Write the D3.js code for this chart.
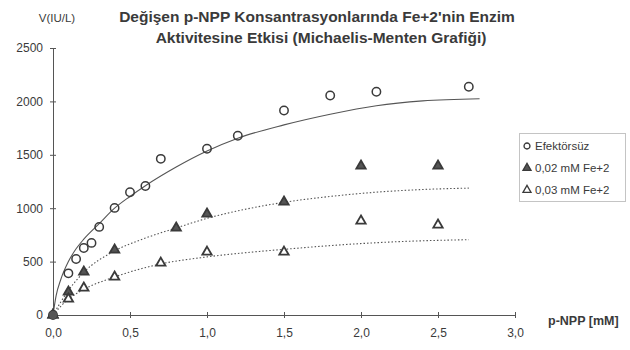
<!DOCTYPE html>
<html>
<head>
<meta charset="utf-8">
<script src="https://cdn.jsdelivr.net/npm/d3@7"></script>
<style>
  body { margin: 0; background: #fff; }
  svg { display: block; font-family: "Liberation Sans", Arial, sans-serif; }
</style>
</head>
<body>
<div id="chart"></div>
<script>
// measured points (p-NPP mM -> V IU/L)
const xEfektorsuz = [0, 0.1, 0.15, 0.2, 0.25, 0.3, 0.4, 0.5, 0.6, 0.7, 1.0, 1.2, 1.5, 1.8, 2.1, 2.7];
const vEfektorsuz = [0, 390, 525, 628, 675, 825, 1003, 1150, 1208, 1462, 1556, 1678, 1915, 2055, 2090, 2137];
const xFe002 = [0, 0.1, 0.2, 0.4, 0.8, 1.0, 1.5, 2.0, 2.5];
const vFe002 = [0, 216, 403, 609, 815, 947, 1059, 1396, 1396];
const xFe003 = [0, 0.1, 0.2, 0.4, 0.7, 1.0, 1.5, 2.0, 2.5];
const vFe003 = [0, 150, 253, 356, 487, 590, 590, 881, 843];

// fitted curves
const fitX1 = [0, 0.02, 0.05, 0.1, 0.15, 0.2, 0.3, 0.4, 0.5, 0.6, 0.8, 1.0, 1.2, 1.5, 1.8, 2.1, 2.4, 2.77];
const fitV1 = [0, 180, 330, 500, 620, 710, 855, 1000, 1110, 1210, 1385, 1535, 1655, 1780, 1880, 1960, 2005, 2025];
const fitX2 = [0, 0.1, 0.2, 0.4, 0.6, 0.8, 1.0, 1.2, 1.5, 1.8, 2.1, 2.4, 2.7];
const fitV2 = [0, 230, 400, 600, 720, 815, 905, 975, 1055, 1110, 1150, 1175, 1188];
const fitX3 = [0, 0.1, 0.2, 0.4, 0.7, 1.0, 1.3, 1.5, 1.9, 2.3, 2.7];
const fitV3 = [0, 150, 240, 356, 478, 544, 590, 615, 660, 690, 705];

const xTicks = [0, 0.5, 1.0, 1.5, 2.0, 2.5, 3.0];
const xTickLabels = ["0,0", "0,5", "1,0", "1,5", "2,0", "2,5", "3,0"];
const yTicks = [0, 500, 1000, 1500, 2000, 2500];
const seriesNames = ["Efektörsüz", "0,02 mM Fe+2", "0,03 mM Fe+2"];
const titleLines = ["Değişen p-NPP Konsantrasyonlarında Fe+2'nin Enzim", "Aktivitesine Etkisi (Michaelis-Menten Grafiği)"];

const width = 630, height = 350;
const ink = "#3a3a3a";
const svg = d3.select("#chart").append("svg").attr("width", width).attr("height", height);

const x = d3.scaleLinear().domain([0, 3]).range([53, 515]);
const y = d3.scaleLinear().domain([0, 2500]).range([315, 48]);

// title
svg.selectAll(".title").data(titleLines).enter().append("text")
  .attr("x", (d, i) => i ? 321 : 317).attr("y", (d, i) => 22 + i * 21)
  .attr("text-anchor", "middle").attr("font-size", 15.5).attr("font-weight", "bold")
  .attr("fill", ink).text(d => d);

svg.append("text").attr("x", 57).attr("y", 22).attr("text-anchor", "middle")
  .attr("font-size", 11.5).attr("fill", ink).text("V(IU/L)");

// axes
const yAxis = svg.append("g").attr("transform", "translate(53,0)")
  .call(d3.axisLeft(y).tickValues(yTicks).tickFormat(d3.format("d")).tickSize(3).tickSizeOuter(0).tickPadding(7));
yAxis.selectAll(".tick line").attr("x1", 3);
const xAxis = svg.append("g").attr("transform", "translate(0,315)")
  .call(d3.axisBottom(x).tickValues(xTicks).tickFormat((d, i) => xTickLabels[i]).tickSize(3).tickSizeOuter(0).tickPadding(10));
xAxis.selectAll(".tick line").attr("y1", -3);
svg.selectAll(".domain").attr("stroke", "#555");
svg.selectAll(".tick line").attr("stroke", "#555");
svg.selectAll(".tick text").attr("font-size", 12).attr("fill", ink).attr("font-family", "Liberation Sans, Arial, sans-serif");

svg.append("text").attr("x", 548).attr("y", 325).attr("font-size", 12.5).attr("font-weight", "bold")
  .attr("fill", ink).text("p-NPP [mM]");

// fitted curves
const line = d3.line().x(d => x(d[0])).y(d => y(d[1])).curve(d3.curveMonotoneX);
const fits = [
  {xs: fitX1, vs: fitV1, dash: null},
  {xs: fitX2, vs: fitV2, dash: "1.5,2"},
  {xs: fitX3, vs: fitV3, dash: "1.5,2"}
];
fits.forEach(f => {
  svg.append("path").datum(d3.zip(f.xs, f.vs)).attr("d", line)
    .attr("fill", "none").attr("stroke", "#555").attr("stroke-width", 1.1)
    .attr("stroke-dasharray", f.dash);
});

// markers
const tri = d3.symbol().type(d3.symbolTriangle).size(38);
svg.append("g").selectAll("circle").data(d3.zip(xEfektorsuz, vEfektorsuz)).enter().append("circle")
  .attr("cx", d => x(d[0])).attr("cy", d => y(d[1])).attr("r", 4.2)
  .attr("fill", "none").attr("stroke", ink).attr("stroke-width", 1.5);
svg.append("g").selectAll("path").data(d3.zip(xFe002, vFe002)).enter().append("path")
  .attr("d", tri).attr("transform", d => `translate(${x(d[0])},${y(d[1])})`)
  .attr("fill", "#555").attr("stroke", ink).attr("stroke-width", 1.8);
svg.append("g").selectAll("path").data(d3.zip(xFe003, vFe003)).enter().append("path")
  .attr("d", tri).attr("transform", d => `translate(${x(d[0])},${y(d[1])})`)
  .attr("fill", "#fff").attr("stroke", ink).attr("stroke-width", 1.8);
svg.append("circle").attr("cx", x(0)).attr("cy", y(0)).attr("r", 4).attr("fill", "#555");

// legend
const legend = svg.append("g");
legend.append("rect").attr("x", 519.5).attr("y", 133.5).attr("width", 106).attr("height", 68)
  .attr("fill", "none").attr("stroke", "#888").attr("stroke-dasharray", "1,1");
const rows = legend.selectAll(".row").data(seriesNames).enter().append("g")
  .attr("transform", (d, i) => `translate(527,${146 + i * 22})`);
rows.append("path").attr("d", (d, i) => i === 0 ? d3.symbol().type(d3.symbolCircle).size(28)() : d3.symbol().type(d3.symbolTriangle).size(28)())
  .attr("fill", (d, i) => i === 1 ? "#555" : "none").attr("stroke", ink).attr("stroke-width", 1.3);
rows.append("text").attr("x", 8).attr("y", 4).attr("font-size", 11.5).attr("fill", ink).text(d => d);
</script>
</body>
</html>
